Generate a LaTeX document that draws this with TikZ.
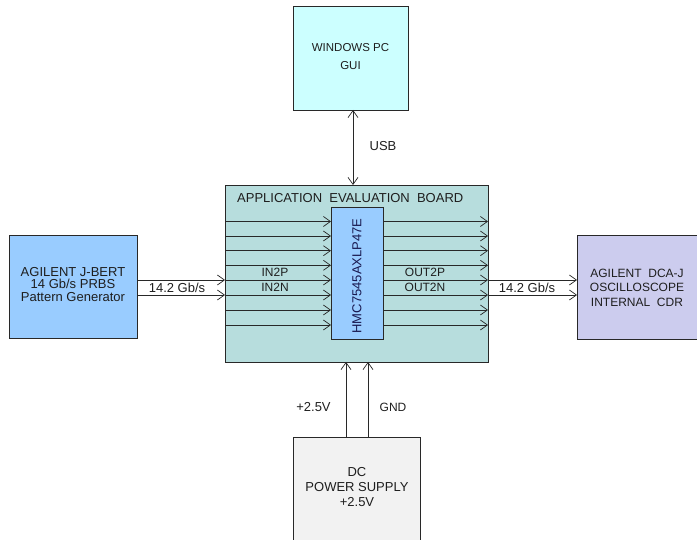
\documentclass[tikz,border=0pt]{standalone}
\usepackage{fontspec}
\setmainfont{Liberation Sans}
\usetikzlibrary{arrows.meta}
\definecolor{pcfill}{RGB}{204,255,255}
\definecolor{boardfill}{RGB}{183,221,221}
\definecolor{chipfill}{RGB}{153,204,255}
\definecolor{bertfill}{RGB}{153,204,255}
\definecolor{dcafill}{RGB}{204,204,238}
\definecolor{psfill}{RGB}{242,242,242}
\definecolor{linec}{RGB}{40,40,40}
\definecolor{txtc}{RGB}{30,30,30}
\definecolor{chiptxt}{RGB}{25,25,80}
\tikzset{
  blk/.style={draw=linec, line width=0.8pt, inner sep=0pt},
  sig/.style={draw=linec, line width=0.7pt, -{Straight Barb[length=7pt,width=10pt,line width=0.7pt]}},
  bidir/.style={draw=linec, line width=0.7pt, {Straight Barb[length=7pt,width=10pt,line width=0.7pt]}-{Straight Barb[length=7pt,width=10pt,line width=0.7pt]}},
  lbl/.style={font=\fontsize{13}{12.5}\selectfont, text=txtc, inner sep=0pt, align=center},
}
\begin{document}
\begin{tikzpicture}[x=1pt,y=-1pt]
\useasboundingbox (0,0) rectangle (697,540);
\clip (0,0) rectangle (697,540);
% boxes
\node[blk, fill=pcfill, minimum width=115pt, minimum height=104pt, anchor=north west] (pc) at (293,6) {};
\node[lbl, font=\fontsize{11.5}{18}\selectfont] (pctxt) at (350.5,57) {WINDOWS PC\\GUI};
\node[blk, fill=boardfill, minimum width=263pt, minimum height=177pt, anchor=north west] (board) at (225,185) {};
\node[lbl, anchor=west] (boardtxt) at (237,198) {APPLICATION\ \ EVALUATION\ \ BOARD};
\node[blk, fill=chipfill, minimum width=52pt, minimum height=132pt, anchor=north west] (chip) at (331,207) {};
\node[lbl, rotate=90, text=chiptxt] (chiptxt) at (357,276) {HMC7545AXLP47E};
\node[blk, fill=bertfill, minimum width=128pt, minimum height=103pt, anchor=north west] (bert) at (9,235) {};
\node[lbl] (berttxt) at (73,284.5) {AGILENT J-BERT\\14 Gb/s PRBS\\Pattern Generator};
\node[blk, fill=dcafill, minimum width=140pt, minimum height=104pt, anchor=north west] (dca) at (577,235) {};
\node[lbl, font=\fontsize{12}{14.5}\selectfont] (dcatxt) at (637,287.5) {AGILENT\ \ DCA-J\\OSCILLOSCOPE\\INTERNAL\ \ CDR};
\node[blk, fill=psfill, minimum width=127pt, minimum height=120pt, anchor=north west] (ps) at (293,437) {};
\node[lbl, font=\fontsize{13}{15}\selectfont] (pstxt) at (357,487) {DC\\POWER SUPPLY\\+2.5V};
% internal coordinates
\foreach \i/\y in {1/221.5,2/236,3/250.7,4/265.3,5/280,6/295,7/310,8/325}{
  \coordinate (bl\i) at (225,\y);
  \coordinate (cl\i) at (331,\y);
  \coordinate (cr\i) at (383,\y);
  \coordinate (br\i) at (488,\y);
  \draw[sig] (bl\i) -- (cl\i);
  \draw[sig] (cr\i) -- (br\i);
}
% external signals
\coordinate (bertA) at (137,280);
\coordinate (bertB) at (137,295);
\coordinate (dcaA) at (577,280);
\coordinate (dcaB) at (577,295);
\draw[sig] (bertA) -- (bl5);
\draw[sig] (bertB) -- (bl6);
\draw[sig] (br5) -- (dcaA);
\draw[sig] (br6) -- (dcaB);
\node[lbl] (ratel) at (177,287.5) {14.2 Gb/s};
\node[lbl] (rater) at (527,287.5) {14.2 Gb/s};
\node[lbl, font=\fontsize{12}{12}\selectfont] (in2p) at (275,272.5) {IN2P};
\node[lbl, font=\fontsize{12}{12}\selectfont] (in2n) at (275,287.5) {IN2N};
\node[lbl, font=\fontsize{12}{12}\selectfont] (out2p) at (425,272.5) {OUT2P};
\node[lbl, font=\fontsize{12}{12}\selectfont] (out2n) at (425,287.5) {OUT2N};
% USB
\coordinate (usbT) at (353,110);
\coordinate (usbB) at (353,185);
\draw[bidir] (usbT) -- (usbB);
\node[lbl] (usb) at (383,146) {USB};
% power
\coordinate (p1b) at (346,437);
\coordinate (p1t) at (346,362);
\coordinate (p2b) at (368,437);
\coordinate (p2t) at (368,362);
\draw[sig] (p1b) -- (p1t);
\draw[sig] (p2b) -- (p2t);
\node[lbl] (vlbl) at (313.5,407) {+2.5V};
\node[lbl, font=\fontsize{12}{12}\selectfont] (glbl) at (393,407) {GND};
\end{tikzpicture}
\end{document}
